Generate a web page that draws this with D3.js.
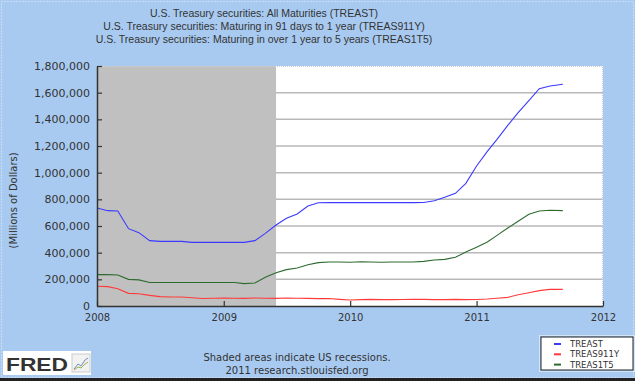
<!DOCTYPE html>
<html>
<head>
<meta charset="utf-8">
<style>
  body { margin: 0; background: #a8caf0; }
  svg { display: block; }
  text { font-family: "DejaVu Sans", sans-serif; fill: #333; }
</style>
<script src="https://d3js.org/d3.v7.min.js"></script>
</head>
<body>
<script>
// chart data (monthly, millions of dollars)
var titles = [
  "U.S. Treasury securities: All Maturities (TREAST)",
  "U.S. Treasury securities: Maturing in 91 days to 1 year (TREAS911Y)",
  "U.S. Treasury securities: Maturing in over 1 year to 5 years (TREAS1T5)"
];
var seriesNames = ["TREAST", "TREAS911Y", "TREAS1T5"];
var seriesColors = ["#3a3aff", "#ff3a3a", "#2f6a2f"];

var dates = [
  "2008-01-01","2008-02-01","2008-03-01","2008-04-01","2008-05-01","2008-06-01",
  "2008-07-01","2008-08-01","2008-09-01","2008-10-01","2008-11-01","2008-12-01",
  "2009-01-01","2009-02-01","2009-03-01","2009-04-01","2009-05-01","2009-06-01",
  "2009-07-01","2009-08-01","2009-09-01","2009-10-01","2009-11-01","2009-12-01",
  "2010-01-01","2010-02-01","2010-03-01","2010-04-01","2010-05-01","2010-06-01",
  "2010-07-01","2010-08-01","2010-09-01","2010-10-01","2010-11-01","2010-12-01",
  "2011-01-01","2011-02-01","2011-03-01","2011-04-01","2011-05-01","2011-06-01",
  "2011-07-01","2011-08-01","2011-09-07"
];
var treast = [
  735000, 715000, 712000, 580000, 550000, 490000,
  485000, 485000, 485000, 477000, 477000, 477000,
  477000, 477000, 477000, 490000, 545000, 607000,
  658000, 690000, 750000, 774000, 775000, 775000,
  775000, 775000, 775000, 775000, 775000, 775000,
  775000, 776000, 790000, 815000, 845000, 920000,
  1050000, 1160000, 1250000, 1355000, 1450000, 1540000,
  1630000, 1650000, 1663000
];
var treas911y = [
  148000, 145000, 130000, 95000, 92000, 80000,
  70000, 68000, 68000, 62000, 56000, 58000,
  60000, 58000, 57000, 60000, 58000, 57000,
  60000, 58000, 57000, 55000, 56000, 50000,
  45000, 48000, 50000, 48000, 48000, 49000,
  50000, 50000, 48000, 48000, 50000, 48000,
  49000, 52000, 58000, 65000, 85000, 100000,
  115000, 125000, 125000
];
var treas1t5 = [
  235000, 235000, 233000, 200000, 196000, 176000,
  176000, 176000, 176000, 176000, 176000, 176000,
  176000, 176000, 168000, 172000, 215000, 250000,
  273000, 285000, 310000, 325000, 330000, 330000,
  328000, 332000, 330000, 328000, 330000, 330000,
  330000, 335000, 345000, 350000, 365000, 405000,
  440000, 480000, 530000, 585000, 635000, 688000,
  712000, 718000, 715000
];
var yTicks = [0, 200000, 400000, 600000, 800000, 1000000, 1200000, 1400000, 1600000, 1800000];
var xTicks = ["2008-01-01", "2009-01-01", "2010-01-01", "2011-01-01", "2012-01-01"];
var recessions = [["2007-12-01", "2009-06-01"]];
var yLabel = "(Millions of Dollars)";
var notes = ["Shaded areas indicate US recessions.", "2011 research.stlouisfed.org"];

var W = 635, H = 381;
var margin = {top: 66, right: 32, bottom: 75, left: 97};
var width = W - margin.left - margin.right,
    height = H - margin.top - margin.bottom;

var parse = d3.timeParse("%Y-%m-%d");

var svg = d3.select("body").append("svg")
  .attr("width", W)
  .attr("height", H);

svg.append("rect")
  .attr("width", W).attr("height", H)
  .attr("fill", "#a8caf0");

// faint dotted frame like the original image
svg.append("rect")
  .attr("x", 1.5).attr("y", 1.5)
  .attr("width", W - 3).attr("height", H - 5)
  .attr("fill", "none")
  .attr("stroke", "#e8f0fa")
  .attr("stroke-dasharray", "1,2");
svg.append("line")
  .attr("x1", 0).attr("x2", W).attr("y1", H - 1.5).attr("y2", H - 1.5)
  .attr("stroke", "#222").attr("stroke-width", 3);

// titles
svg.selectAll(".title")
  .data(titles)
  .enter().append("text")
  .attr("class", "title")
  .attr("x", 264)
  .attr("y", function(d, i) { return 17 + i * 13; })
  .attr("text-anchor", "middle")
  .style("font-family", "'Liberation Sans', Arial, sans-serif")
  .style("font-size", "10.5px")
  .text(function(d) { return d; });

var g = svg.append("g")
  .attr("transform", "translate(" + margin.left + "," + margin.top + ")");

var x = d3.scaleTime()
  .domain([parse(xTicks[0]), parse(xTicks[xTicks.length - 1])])
  .range([0, width]);
var y = d3.scaleLinear()
  .domain([0, 1800000])
  .range([height, 0]);

// plot background
g.append("rect")
  .attr("width", width).attr("height", height)
  .attr("fill", "#fff");

// grid
g.selectAll(".grid")
  .data(yTicks.slice(1, -1))
  .enter().append("line")
  .attr("x1", 0).attr("x2", width)
  .attr("y1", function(d) { return y(d); })
  .attr("y2", function(d) { return y(d); })
  .attr("stroke", "#b8b8b8")
  .attr("stroke-width", 1.5);

// recession shading
g.selectAll(".rec")
  .data(recessions)
  .enter().append("rect")
  .attr("x", function(d) { return Math.max(0, x(parse(d[0]))); })
  .attr("width", function(d) { return x(parse(d[1])) - Math.max(0, x(parse(d[0]))); })
  .attr("y", 0).attr("height", height)
  .attr("fill", "#c0c0c0");

// top / right frame
g.append("path")
  .attr("d", "M0,0.5H" + (width - 0.5) + "V" + height)
  .attr("fill", "none")
  .attr("stroke", "#d0d0d0")
  .attr("stroke-dasharray", "1,1");

// lines
var allSeries = [treast, treas911y, treas1t5];
var line = d3.line()
  .x(function(d) { return x(d.date); })
  .y(function(d) { return y(d.value); });

allSeries.forEach(function(vals, k) {
  var pts = dates.map(function(d, i) { return {date: parse(d), value: vals[i]}; });
  g.append("path")
    .datum(pts)
    .attr("fill", "none")
    .attr("stroke", seriesColors[k])
    .attr("stroke-width", 1.1)
    .attr("d", line);
});

// axes (ticks pointing inward)
var yAxis = d3.axisLeft(y)
  .tickValues(yTicks)
  .tickSizeInner(-5).tickSizeOuter(0)
  .tickPadding(7)
  .tickFormat(d3.format(",d"));
var yg = g.append("g").call(yAxis);
yg.select(".domain").attr("stroke", "#333").attr("stroke-width", 1.5);
yg.selectAll(".tick line").attr("stroke", "#333").attr("stroke-width", 1.2);
yg.selectAll("text").style("font-size", "11px").attr("fill", "#333");

var xAxis = d3.axisBottom(x)
  .tickValues(xTicks.map(parse))
  .tickSizeInner(-5).tickSizeOuter(0)
  .tickPadding(8)
  .tickFormat(d3.timeFormat("%Y"));
var xg = g.append("g")
  .attr("transform", "translate(0," + height + ")")
  .call(xAxis);
xg.select(".domain").attr("stroke", "#333").attr("stroke-width", 1.5);
xg.selectAll(".tick line").attr("stroke", "#333").attr("stroke-width", 1.2);
xg.selectAll("text").style("font-size", "10px").attr("fill", "#333");

// y label
svg.append("text")
  .attr("transform", "translate(17," + (margin.top + height * 0.56) + ") rotate(-90)")
  .attr("text-anchor", "middle")
  .style("font-size", "10px")
  .text(yLabel);

// notes
svg.selectAll(".note")
  .data(notes)
  .enter().append("text")
  .attr("x", 297)
  .attr("y", function(d, i) { return 361 + i * 13; })
  .attr("text-anchor", "middle")
  .style("font-size", "10px")
  .text(function(d) { return d; });

// legend
var lg = svg.append("g").attr("transform", "translate(541,337)");
lg.append("rect")
  .attr("x", -1.5).attr("y", -1.5).attr("width", 95).attr("height", 36)
  .attr("fill", "none").attr("stroke", "#fff").attr("stroke-dasharray", "1,1");
lg.append("rect")
  .attr("width", 92).attr("height", 33)
  .attr("fill", "#fff").attr("stroke", "#222");
seriesNames.forEach(function(name, i) {
  lg.append("line")
    .attr("x1", 13).attr("x2", 20)
    .attr("y1", 7 + i * 10.3).attr("y2", 7 + i * 10.3)
    .attr("stroke", seriesColors[i]).attr("stroke-width", 2);
  lg.append("text")
    .attr("x", 29).attr("y", 10 + i * 10.3)
    .style("font-size", "8.5px")
    .text(name);
});

// FRED logo
var logo = svg.append("g").attr("transform", "translate(3,351)");
logo.append("rect")
  .attr("width", 88).attr("height", 24)
  .attr("fill", "#fff");
logo.append("text")
  .attr("x", 3).attr("y", 20)
  .attr("textLength", 62).attr("lengthAdjust", "spacingAndGlyphs")
  .style("font-family", "'Liberation Sans', Arial, sans-serif")
  .style("font-weight", "bold")
  .style("font-size", "18px")
  .attr("fill", "#111")
  .text("FRED");
logo.append("rect")
  .attr("x", 69).attr("y", 3).attr("width", 18).attr("height", 18)
  .attr("fill", "#f2f2f2").attr("stroke", "#ccc");
logo.append("path")
  .attr("d", "M71,18 L75,13 L78,15 L82,9 L85,7")
  .attr("fill", "none").attr("stroke", "#6b8fc0").attr("stroke-width", 1);
logo.append("path")
  .attr("d", "M71,19 L75,16 L78,17 L82,13 L85,11")
  .attr("fill", "none").attr("stroke", "#9ab04a").attr("stroke-width", 1);
</script>
</body>
</html>
